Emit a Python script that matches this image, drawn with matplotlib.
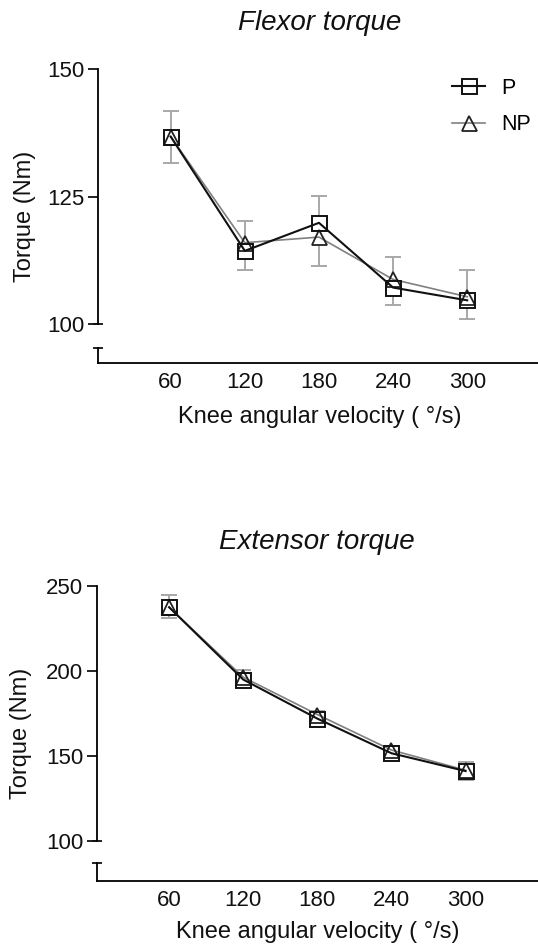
import matplotlib
matplotlib.use('Agg')
import matplotlib.pyplot as plt
import numpy as np

plt.rcParams['font.family'] = ['Liberation Sans', 'DejaVu Sans']

# ---------------- data ----------------
velocities = [60, 120, 180, 240, 300]
velocity_labels = ['60', '120', '180', '240', '300']

flex_P = [136.8, 114.4, 119.9, 107.2, 104.7]
flex_NP = [136.8, 116.0, 117.1, 108.8, 105.4]
flex_P_err = [5.1, 5.8, 5.2, 6.0, 5.9]      # drawn upward
flex_NP_err = [5.1, 5.4, 5.7, 5.1, 4.3]     # drawn downward
flex_yticks = [100, 125, 150]

ext_P = [237.5, 194.9, 171.9, 151.5, 141.0]
ext_NP = [237.5, 196.3, 174.3, 153.4, 141.5]
ext_P_err = [7.2, 5.6, 4.5, 4.5, 5.5]
ext_NP_err = [6.5, 5.6, 4.5, 4.0, 5.8]
ext_yticks = [100, 150, 200, 250]

series_labels = ['P', 'NP']
titles = ['Flexor torque', 'Extensor torque']
ylabel = 'Torque (Nm)'
xlabel = 'Knee angular velocity ( \u00b0/s)'

# ---------------- figure ----------------
W, H = 538, 948
fig = plt.figure(figsize=(W / 100, H / 100), dpi=100)

BLACK = '#111111'
GREY = '#808080'
ERR = '#a8a8a8'
SPINE_LW = 1.3
PX = 0.72  # points per pixel


def panel(top, bottom, seg_top, seg_bottom, left, xlim, ylim, yticks,
          P, NP, Perr, NPerr, title, title_xy, ylabel_xy, xlabel_xy, legend):
    ax = fig.add_axes([left / W, 1 - bottom / H, (W - left) / W, (bottom - top) / H])
    axb = fig.add_axes([left / W, 1 - seg_bottom / H, (W - left) / W,
                        (seg_bottom - seg_top) / H])
    for a in (ax, axb):
        a.set_xlim(*xlim)
        a.patch.set_alpha(0)
        a.spines['top'].set_visible(False)
        a.spines['right'].set_visible(False)
        a.spines['left'].set_linewidth(SPINE_LW)
        a.spines['bottom'].set_linewidth(SPINE_LW)
    ax.spines['bottom'].set_visible(False)
    ax.set_ylim(*ylim)
    ax.set_yticks(yticks)
    ax.set_yticklabels([str(t) for t in yticks])
    ax.tick_params(axis='y', direction='out', length=10 * PX, width=SPINE_LW,
                   pad=2.5, labelsize=16, colors=BLACK)
    ax.tick_params(axis='x', bottom=False, labelbottom=False)

    axb.set_ylim(0, 1)
    axb.set_yticks([])
    axb.set_xticks(velocities)
    axb.set_xticklabels(velocity_labels)
    axb.tick_params(axis='x', length=0, pad=6.5, labelsize=16, colors=BLACK)

    # axis-break caps
    ax.plot([0], [0], transform=ax.transAxes, marker='_', ms=10 * PX,
            mew=SPINE_LW, color=BLACK, clip_on=False)
    axb.plot([0], [1], transform=axb.transAxes, marker='_', ms=10 * PX,
             mew=SPINE_LW, color=BLACK, clip_on=False)

    x = np.array(velocities, dtype=float)
    P = np.array(P)
    NP = np.array(NP)
    P_top = P + np.array(Perr)
    NP_bot = NP - np.array(NPerr)

    # error bars (P upward, NP downward)
    ax.vlines(x, P, P_top, color=ERR, lw=1.4, zorder=1)
    ax.plot(x, P_top, ls='none', marker='_', ms=16 * PX, mew=1.4, color=ERR, zorder=1)
    ax.vlines(x, NP_bot, NP, color=ERR, lw=1.4, zorder=1)
    ax.plot(x, NP_bot, ls='none', marker='_', ms=16 * PX, mew=1.4, color=ERR, zorder=1)

    # white fills under the markers
    ax.plot(x, P, ls='none', marker='s', ms=15 * PX, mfc='white', mec='none', zorder=2)
    ax.plot(x, NP, ls='none', marker='^', ms=15 * PX, mfc='white', mec='none', zorder=2)

    hp, = ax.plot(x, P, color=BLACK, lw=1.5, marker='s', ms=15 * PX, mfc='none',
                  mec=BLACK, mew=1.4, zorder=4, clip_on=False)
    hn, = ax.plot(x, NP, color=GREY, lw=1.2, marker='^', ms=15 * PX, mfc='none',
                  mec='#222222', mew=1.3, zorder=3, clip_on=False)

    if legend:
        ax.legend([hp, hn], series_labels, loc='upper left',
                  bbox_to_anchor=(452 / W, 1 - 78 / H), bbox_transform=fig.transFigure,
                  frameon=False, fontsize=15.5, handlelength=1.55, handletextpad=0.75,
                  borderpad=0, borderaxespad=0, labelspacing=0.7)

    fig.text(title_xy[0] / W, 1 - title_xy[1] / H, title, style='italic',
             fontsize=20, ha='center', va='center', color=BLACK)
    fig.text(ylabel_xy[0] / W, 1 - ylabel_xy[1] / H, ylabel, rotation=90,
             fontsize=17, ha='center', va='center', color=BLACK)
    fig.text(xlabel_xy[0] / W, 1 - xlabel_xy[1] / H, xlabel,
             fontsize=17, ha='center', va='center', color=BLACK)
    return ax, axb


panel(69.3, 324.3, 347.5, 362.5, 98.3, (1.4, 357.3), (100, 150), flex_yticks,
      flex_P, flex_NP, flex_P_err, flex_NP_err, titles[0], (320, 23),
      (25, 216), (320, 417.5), True)

panel(586, 840.7, 862.7, 881, 96.7, (1.4, 358.6), (100, 250), ext_yticks,
      ext_P, ext_NP, ext_P_err, ext_NP_err, titles[1], (316.5, 542),
      (21, 733.5), (317.4, 932), False)

fig.savefig('out.png', dpi=100)
